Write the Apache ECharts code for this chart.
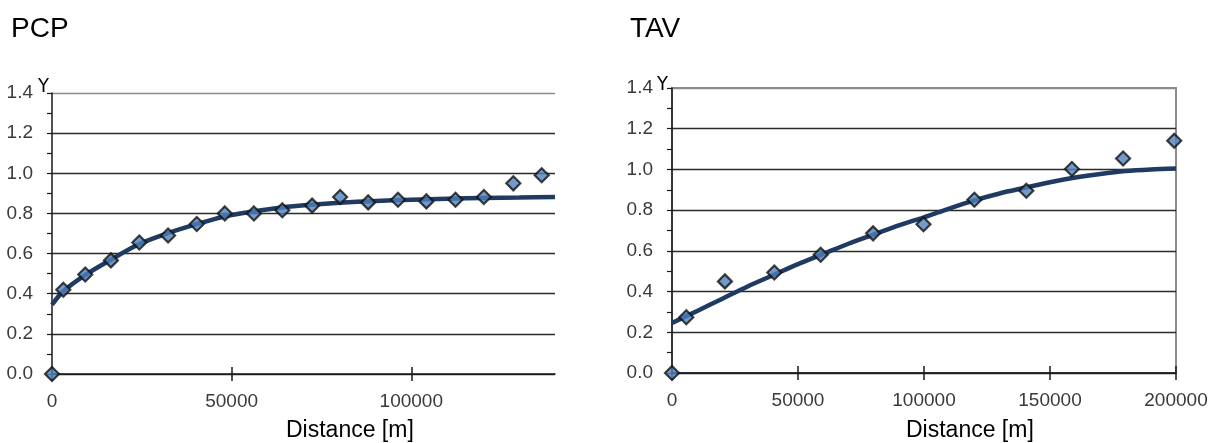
<!DOCTYPE html>
<html>
<head>
<meta charset="utf-8">
<script src="https://cdn.jsdelivr.net/npm/echarts@6/dist/echarts.min.js"></script>
<style>
html,body{margin:0;padding:0;background:#fff;}
#c{width:1211px;height:443px;}
</style>
</head>
<body>
<div id="c"></div>
<script>
// ---- Data ----
const pcpObsX = [0, 3150, 9260, 16400, 24300, 32300, 40300, 48100, 56200, 64100, 72400, 80200, 88000, 96300, 104200, 112300, 120200, 128400, 136300];
const pcpObsY = [0, 0.42, 0.496, 0.566, 0.655, 0.69, 0.747, 0.80, 0.80, 0.816, 0.839, 0.882, 0.855, 0.868, 0.86, 0.868, 0.882, 0.95, 0.99];
const pcpFitX = [0, 3000, 9000, 16000, 24000, 32000, 40000, 48000, 56000, 64000, 72000, 80000, 90000, 100000, 110000, 120000, 130000, 140000];
const pcpFitY = [0.345, 0.41, 0.49, 0.565, 0.645, 0.70, 0.745, 0.785, 0.81, 0.83, 0.843, 0.853, 0.862, 0.868, 0.873, 0.877, 0.879, 0.882];

const tavObsX = [0, 5670, 21000, 40600, 59000, 79800, 99800, 120000, 140600, 158700, 179000, 199300];
const tavObsY = [0, 0.274, 0.45, 0.494, 0.581, 0.686, 0.731, 0.851, 0.895, 1.002, 1.054, 1.141];
const tavFitX = [0, 10000, 20000, 30000, 40000, 50000, 60000, 70000, 80000, 90000, 100000, 110000, 120000, 130000, 140000, 150000, 160000, 170000, 180000, 190000, 200000];
const tavFitY = [0.246, 0.305, 0.365, 0.425, 0.48, 0.535, 0.585, 0.635, 0.68, 0.725, 0.765, 0.808, 0.848, 0.882, 0.91, 0.937, 0.96, 0.978, 0.992, 1.0, 1.005];

const pcpXTicks = [0, 50000, 100000];
const tavXTicks = [0, 50000, 100000, 150000, 200000];
const yTicks = [0, 0.2, 0.4, 0.6, 0.8, 1.0, 1.2, 1.4];
const panelTitles = ['PCP', 'TAV'];
const xName = 'Distance [m]';
const yName = 'Y';
const pcpXMax = 140000;
const tavXMax = 200000;

// ---- Build ----
const pairs = (xs, ys) => xs.map((x, i) => [x, ys[i]]);
const FONT = '"Liberation Sans", Arial, sans-serif';
const NARROW = '"Liberation Sans Narrow", "DejaVu Sans Condensed", "Liberation Sans", sans-serif';
const gridColors = ['#2b2b2b','#2b2b2b','#2b2b2b','#2b2b2b','#2b2b2b','#2b2b2b','#2b2b2b','#8c8c8c'];

function xAxisMain(gridIndex, max, ticks) {
  return {
    type: 'value', gridIndex, min: 0, max, position: 'bottom',
    axisLine: { show: true, onZero: false, lineStyle: { color: '#1a1a1a', width: 1.5 } },
    axisTick: { show: true, inside: false, length: 7, customValues: ticks, lineStyle: { color: '#1a1a1a', width: 1.5 } },
    axisLabel: { show: true, customValues: ticks, margin: 18, color: '#3a3a3a', fontFamily: FONT, fontSize: 19,
      formatter: v => String(v) },
    splitLine: { show: false }
  };
}
function xAxisInner(gridIndex, max, ticks) {
  return {
    type: 'value', gridIndex, min: 0, max, position: 'bottom',
    axisLine: { show: false },
    axisTick: { show: true, inside: true, length: 7, customValues: ticks, lineStyle: { color: '#1a1a1a', width: 1.5 } },
    axisLabel: { show: false },
    splitLine: { show: false }
  };
}
function yAxisMain(gridIndex) {
  return {
    type: 'value', gridIndex, min: yTicks[0], max: yTicks[yTicks.length - 1], interval: 0.2,
    axisLine: { show: true, onZero: false, lineStyle: { color: '#1a1a1a', width: 1.5 } },
    axisTick: { show: true, inside: false, length: 5, lineStyle: { color: '#1a1a1a', width: 1.2 } },
    minorTick: { show: true, splitNumber: 2, length: 5, lineStyle: { color: '#1a1a1a', width: 1.2 } },
    axisLabel: { margin: 19, color: '#3a3a3a', fontFamily: FONT, fontSize: 19, formatter: v => v.toFixed(1) },
    splitLine: { show: true, showMinLine: true, showMaxLine: true, lineStyle: { color: gridColors, width: 1.4 } }
  };
}
const lineStyleFit = { color: '#1f3b61', width: 4.5 };
const markerStyle = { color: '#4f81bd', borderColor: '#111', borderWidth: 2.2 };
const tStyle = (size, fam, weight) => ({ fontFamily: fam, fontSize: size, fontWeight: weight, color: '#000' });

const option = {
  animation: false,
  backgroundColor: '#ffffff',
  title: [
    { text: panelTitles[0], left: 11, top: 15, padding: 0, textStyle: tStyle(28, FONT, 'normal') },
    { text: panelTitles[1], left: 630, top: 15, padding: 0, textStyle: tStyle(28, FONT, 'normal') },
    { text: xName, left: 286, top: 419, padding: 0, textStyle: tStyle(23, FONT, 'normal') },
    { text: xName, left: 906, top: 419, padding: 0, textStyle: tStyle(23, FONT, 'normal') },
    { text: yName, left: 38, top: 77, padding: 0, textStyle: tStyle(20, NARROW, 'normal') },
    { text: yName, left: 657, top: 75, padding: 0, textStyle: tStyle(20, NARROW, 'normal') }
  ],
  grid: [
    { left: 52, top: 93, width: 503, height: 281, show: false },
    { left: 672, top: 88, width: 504, height: 285, show: true, borderColor: '#8c8c8c', borderWidth: 2, backgroundColor: 'transparent' }
  ],
  xAxis: [
    xAxisMain(0, pcpXMax, pcpXTicks),
    xAxisInner(0, pcpXMax, pcpXTicks),
    xAxisMain(1, tavXMax, tavXTicks),
    xAxisInner(1, tavXMax, tavXTicks)
  ],
  yAxis: [ yAxisMain(0), yAxisMain(1) ],
  series: [
    { type: 'line', xAxisIndex: 0, yAxisIndex: 0, data: pairs(pcpFitX, pcpFitY), smooth: 0.3, showSymbol: false,
      lineStyle: lineStyleFit, clip: false, z: 3 },
    { type: 'scatter', xAxisIndex: 0, yAxisIndex: 0, data: pairs(pcpObsX, pcpObsY), symbol: 'diamond', symbolSize: 14,
      itemStyle: markerStyle, clip: false, z: 4 },
    { type: 'line', xAxisIndex: 2, yAxisIndex: 1, data: pairs(tavFitX, tavFitY), smooth: 0.3, showSymbol: false,
      lineStyle: lineStyleFit, clip: false, z: 3 },
    { type: 'scatter', xAxisIndex: 2, yAxisIndex: 1, data: pairs(tavObsX, tavObsY), symbol: 'diamond', symbolSize: 14,
      itemStyle: markerStyle, clip: false, z: 4 }
  ]
};
const chart = echarts.init(document.getElementById('c'), null, { renderer: 'canvas' });
chart.setOption(option);
</script>
</body>
</html>
